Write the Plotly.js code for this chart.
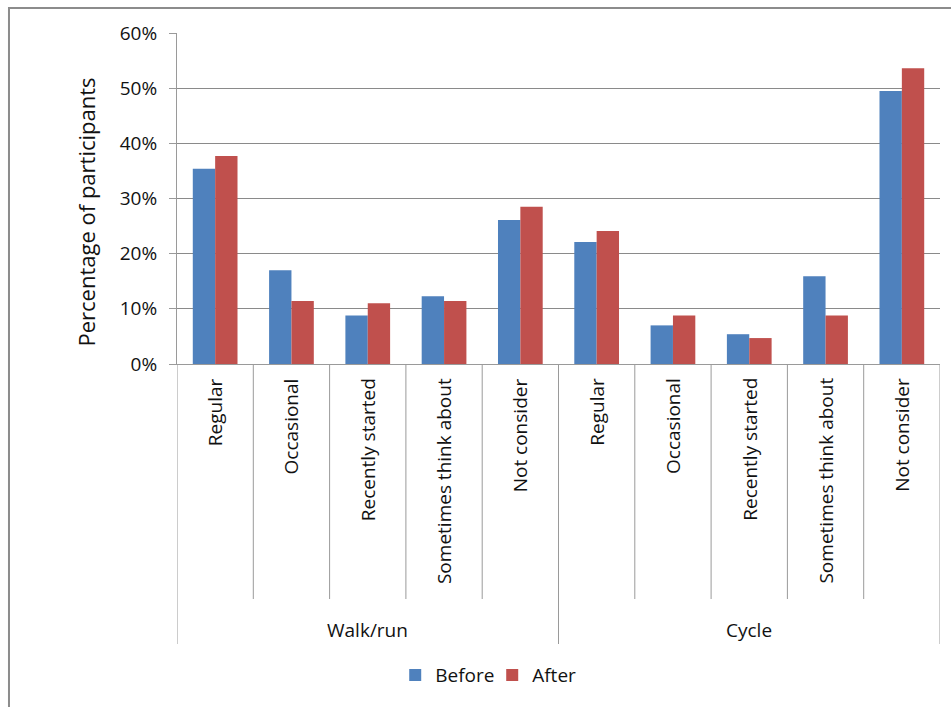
<!DOCTYPE html>
<html>
<head>
<meta charset="utf-8">
<script src="https://cdn.plot.ly/plotly-3.0.1.min.js"></script>
<style>
  html, body { margin: 0; padding: 0; background: #ffffff; }
  #chart { width: 951px; height: 707px; }
</style>
</head>
<body>
<div id="chart"></div>
<script>
// Activity stage by mode, before and after the programme (% of participants)
const groups = ['Walk/run', 'Cycle'];
const categories = ['Regular', 'Occasional', 'Recently started', 'Sometimes think about', 'Not consider'];
const before = [35.4, 17.0, 8.8, 12.3, 26.1, 22.1, 7.0, 5.4, 15.9, 49.5];
const after  = [37.7, 11.4, 11.0, 11.4, 28.5, 24.1, 8.8, 4.7, 8.8, 53.6];
const seriesNames = ['Before', 'After'];
const yTicks = [0, 10, 20, 30, 40, 50, 60];

const FONT = 'Open Sans, Liberation Sans, sans-serif';
const TEXT = '#111111';
const GRID = '#8a8a8a';
const DIV = '#9a9a9a';

// one slot per (group, category) pair along a numeric x axis
const nCat = categories.length;
const xPos = [];
const catLabels = [];
groups.forEach((g, gi) => categories.forEach((c, ci) => {
  xPos.push(gi * nCat + ci);
  catLabels.push(c);
}));

const traces = [
  { type: 'bar', name: seriesNames[0], x: xPos, y: before,
    marker: { color: '#4F81BD', line: { width: 0 } }, hoverinfo: 'y' },
  { type: 'bar', name: seriesNames[1], x: xPos, y: after,
    marker: { color: '#C0504D', line: { width: 0 } }, hoverinfo: 'y' }
];

const shapes = [];
const annotations = [];

// short dividers between categories, long ones at group edges
for (let b = 0; b <= xPos.length; b++) {
  const edge = b % nCat === 0;
  shapes.push({
    type: 'line', xref: 'x', x0: b - 0.5, x1: b - 0.5,
    yref: 'paper', ysizemode: 'pixel', yanchor: 0,
    y0: 0, y1: edge ? -280 : -235,
    line: { color: DIV, width: 1 }
  });
}

// outer chart frame
shapes.push({
  type: 'rect', xref: 'paper', yref: 'paper',
  x0: -0.2202, x1: 1.2, y0: -1.3, y1: 1.0755,
  line: { color: '#8c8c8c', width: 2 }, fillcolor: 'rgba(0,0,0,0)', layer: 'below'
});

// rotated category labels
xPos.forEach((x, i) => {
  annotations.push({
    xref: 'x', x: x, yref: 'paper', y: 0, yshift: -12,
    xanchor: 'center', yanchor: 'top', textangle: -90,
    text: catLabels[i], showarrow: false,
    font: { family: FONT, size: 19, color: TEXT }
  });
});

// group labels
groups.forEach((g, gi) => {
  annotations.push({
    xref: 'x', x: gi * nCat + (nCat - 1) / 2, yref: 'paper', y: 0, yshift: -266,
    xanchor: 'center', yanchor: 'middle', text: g, showarrow: false,
    font: { family: FONT, size: 19, color: TEXT }
  });
});

// y-axis title
annotations.push({
  xref: 'paper', x: 0, xshift: -92, yref: 'paper', y: 0.5, yshift: -14,
  xanchor: 'center', yanchor: 'middle', textangle: -90,
  text: 'Percentage of participants', showarrow: false,
  font: { family: FONT, size: 22, color: TEXT }
});

const layout = {
  width: 951, height: 707,
  margin: { l: 177, r: 11, t: 33, b: 343, pad: 0 },
  paper_bgcolor: '#ffffff', plot_bgcolor: '#ffffff',
  barmode: 'group', bargap: 0.414, bargroupgap: 0,
  font: { family: FONT, size: 19, color: TEXT },
  showlegend: true,
  legend: {
    orientation: 'h', xref: 'paper', x: 0.286, xanchor: 'left',
    yref: 'paper', y: -0.94, yanchor: 'middle',
    font: { family: FONT, size: 19, color: TEXT },
    itemwidth: 30, entrywidth: 52, bgcolor: 'rgba(0,0,0,0)'
  },
  xaxis: {
    range: [-0.5, xPos.length - 0.5], fixedrange: true,
    showticklabels: false, ticks: '', showgrid: false, zeroline: false,
    showline: true, linecolor: DIV, linewidth: 1
  },
  yaxis: {
    range: [0, 60], fixedrange: true,
    tickmode: 'array', tickvals: yTicks, ticktext: yTicks.map(v => v + '%'),
    showgrid: true, gridcolor: GRID, gridwidth: 1, zeroline: false,
    showline: true, linecolor: DIV, linewidth: 1,
    ticks: 'outside', ticklen: 7, tickcolor: DIV, ticklabelstandoff: 8,
    tickfont: { family: FONT, size: 19, color: TEXT }
  },
  shapes: shapes,
  annotations: annotations
};

Plotly.newPlot('chart', traces, layout, { displayModeBar: false, staticPlot: true });
</script>
</body>
</html>
